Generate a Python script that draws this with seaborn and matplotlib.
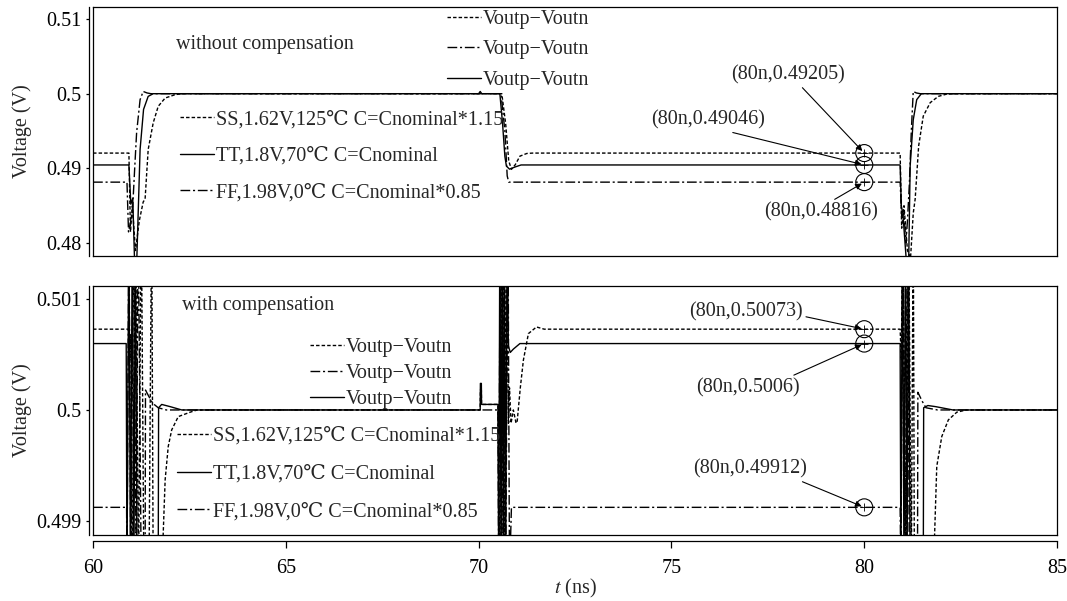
import matplotlib
matplotlib.use("Agg")
import matplotlib.pyplot as plt
import numpy as np
import pandas as pd
import seaborn as sns
from matplotlib.lines import Line2D

# ---------------- data ----------------
corners = ["SS", "TT", "FF"]
corner_labels = ["SS,1.62V,125\u2103 C=Cnominal*1.15",
                 "TT,1.8V,70\u2103 C=Cnominal",
                 "FF,1.98V,0\u2103 C=Cnominal*0.85"]
series_label = "Voutp\u2212Voutn"

# top panel: without compensation
top_ss_t = [60, 60.93, 60.97, 61.02, 61.10, 61.20, 61.30, 61.35, 61.43, 61.56, 61.69, 61.87, 62.13, 62.3,
            70.6, 70.7, 70.78, 70.85, 70.95, 71.07, 71.25, 71.4,
            80.93, 80.97, 81.03, 81.12, 81.2, 81.27, 81.32, 81.41, 81.53, 81.71, 81.92, 82.14, 82.3, 85]
top_ss_v = [0.49205, 0.49205, 0.4815, 0.4850, 0.4790, 0.4830, 0.4855, 0.4859, 0.49253, 0.49609, 0.49831, 0.49942, 0.49987, 0.5,
            0.5, 0.4960, 0.4910, 0.48987, 0.4905, 0.49164, 0.4920, 0.49205,
            0.49205, 0.4820, 0.4850, 0.4790, 0.4780, 0.4840, 0.4859, 0.4930, 0.4970, 0.4988, 0.49964, 0.49995, 0.5, 0.5]
top_tt_t = [60, 60.93, 60.98, 61.03, 61.08, 61.13, 61.22, 61.31, 61.43, 61.56,
            70.0, 70.04, 70.08, 70.55, 70.62, 70.68, 70.72, 70.8, 70.95, 71.1,
            80.93, 80.96, 81.0, 81.1, 81.15, 81.19, 81.27, 81.36, 81.48, 85]
top_tt_v = [0.49046, 0.49046, 0.4852, 0.4860, 0.4770, 0.4770, 0.49253, 0.4979, 0.49964, 0.5,
            0.5, 0.5003, 0.5, 0.5, 0.4960, 0.4916, 0.4903, 0.4899, 0.4902, 0.49046,
            0.49046, 0.4850, 0.4840, 0.4770, 0.4770, 0.4903, 0.4965, 0.4992, 0.5, 0.5]
top_ff_t = [60, 60.88, 60.92, 60.98, 61.03, 61.08, 61.13, 61.22, 61.30, 61.40, 61.5,
            70.58, 70.68, 70.74, 70.78,
            80.93, 80.97, 81.03, 81.08, 81.12, 81.17, 81.22, 81.27, 81.35, 81.45, 85]
top_ff_v = [0.48816, 0.48816, 0.4815, 0.4830, 0.4850, 0.4900, 0.4948, 0.4992, 0.5003, 0.5001, 0.5,
            0.5, 0.4950, 0.4890, 0.48816,
            0.48816, 0.4836, 0.4840, 0.4800, 0.4830, 0.4880, 0.4950, 0.5003, 0.5001, 0.5, 0.5]

# bottom panel: with compensation
bot_ss_t = [60, 60.92, 60.95, 60.98, 61.02, 61.10, 61.18, 61.25, 61.32, 61.45, 61.52, 61.56, 61.78, 61.87, 61.95,
            62.04, 62.21, 62.52, 62.7,
            70.04, 70.045, 70.07, 70.075, 70.5, 70.55, 70.6, 70.66, 70.72, 70.77, 70.8, 70.84, 70.9, 70.97,
            71.0, 71.08, 71.16, 71.29, 71.5, 71.7,
            80.93, 80.96, 81.0, 81.08, 81.15, 81.22, 81.27, 81.3, 81.79, 81.88, 82.01, 82.18, 82.4, 82.65, 85]
bot_ss_v = [0.50073, 0.50073, 0.50045, 0.50068, 0.4985, 0.5018, 0.4985, 0.5018, 0.4985, 0.4985, 0.5018, 0.4985, 0.4985, 0.49937, 0.49967,
            0.49982, 0.49994, 0.49998, 0.5,
            0.5, 0.50018, 0.50018, 0.50005, 0.50005, 0.4985, 0.5018, 0.4985, 0.5018, 0.49988, 0.5002, 0.49988, 0.5, 0.49988,
            0.4999, 0.5002, 0.50045, 0.50069, 0.50075, 0.50073,
            0.50073, 0.50045, 0.5018, 0.4985, 0.5018, 0.4985, 0.5018, 0.4985, 0.4985, 0.49949, 0.49976, 0.49991, 0.49998, 0.5, 0.5]
bot_tt_t = [60, 60.86, 60.88, 60.93, 60.97, 61.02, 61.06, 61.10, 61.14, 61.69, 61.70, 61.78, 62.0, 62.3,
            70.04, 70.045, 70.07, 70.075, 70.5, 70.52, 70.55, 70.58, 70.61, 70.64, 70.67, 70.7, 70.74, 70.77,
            70.82, 70.9, 71.07,
            80.93, 80.95, 80.99, 81.03, 81.07, 81.11, 81.15, 81.19, 81.53, 81.54, 81.65, 81.85, 82.3, 85]
bot_tt_v = [0.5006, 0.5006, 0.4985, 0.5018, 0.4985, 0.5018, 0.4985, 0.5018, 0.4985, 0.4985, 0.50002, 0.50005, 0.50003, 0.5,
            0.5, 0.50024, 0.50024, 0.50005, 0.50005, 0.4985, 0.5018, 0.4985, 0.5018, 0.4985, 0.5018, 0.4985, 0.5018, 0.50058,
            0.50052, 0.50055, 0.5006,
            0.5006, 0.4985, 0.5018, 0.4985, 0.5018, 0.4985, 0.5018, 0.4985, 0.4985, 0.50002, 0.50004, 0.50003, 0.5, 0.5]
bot_ff_t = [60, 60.87, 60.88, 60.93, 60.98, 61.05, 61.12, 61.17, 61.25, 61.35, 61.36, 61.45, 61.55, 61.69, 61.9,
            70.5, 70.52, 70.56, 70.6, 70.65, 70.7, 70.76, 70.8, 70.85,
            80.93, 80.95, 81.0, 81.06, 81.12, 81.17, 81.38, 81.39, 81.5, 81.6, 81.9, 85]
bot_ff_v = [0.49912, 0.49912, 0.4985, 0.5018, 0.4985, 0.5018, 0.4985, 0.5018, 0.4985, 0.4985, 0.50018, 0.50012, 0.50006, 0.50002, 0.5,
            0.5, 0.4985, 0.5018, 0.4985, 0.5018, 0.4985, 0.5018, 0.4985, 0.49912,
            0.49912, 0.4985, 0.5018, 0.4985, 0.5018, 0.4985, 0.4985, 0.50016, 0.50008, 0.50002, 0.5, 0.5]

top_marker_vals = [0.49205, 0.49046, 0.48816]
top_marker_text = ["(80n,0.49205)", "(80n,0.49046)", "(80n,0.48816)"]
bot_marker_vals = [0.50073, 0.5006, 0.49912]
bot_marker_text = ["(80n,0.50073)", "(80n,0.5006)", "(80n,0.49912)"]
marker_time = 80

top_yticks = [0.48, 0.49, 0.5, 0.51]
top_yticklabels = ["0.48", "0.49", "0.5", "0.51"]
bot_yticks = [0.499, 0.5, 0.501]
bot_yticklabels = ["0.499", "0.5", "0.501"]
xticks = [60, 65, 70, 75, 80, 85]

# ---------------- style ----------------
sns.set_theme(style="white")
plt.rcParams["font.family"] = ["Liberation Serif", "DejaVu Serif"]
plt.rcParams["mathtext.fontset"] = "stix"
plt.rcParams["axes.edgecolor"] = "black"
plt.rcParams["xtick.color"] = "black"
plt.rcParams["ytick.color"] = "black"
FS = 14.5

dash_map = {"SS": (2.5, 1.5), "TT": "", "FF": (7, 2, 1.5, 2)}
mpl_ls = {"SS": (0, (2.5, 1.5)), "TT": "-", "FF": (0, (7, 2, 1.5, 2))}


def frame(t_lists, v_lists):
    parts = []
    for c, t, v in zip(corners, t_lists, v_lists):
        parts.append(pd.DataFrame({"t": t, "v": v, "corner": c}))
    return pd.concat(parts, ignore_index=True)


df_top = frame([top_ss_t, top_tt_t, top_ff_t], [top_ss_v, top_tt_v, top_ff_v])
df_bot = frame([bot_ss_t, bot_tt_t, bot_ff_t], [bot_ss_v, bot_tt_v, bot_ff_v])

fig = plt.figure(figsize=(10.67, 6.01), dpi=100)
ax1 = fig.add_axes([0.0872, 0.574, 0.9035, 0.4143])
ax2 = fig.add_axes([0.0872, 0.1098, 0.9035, 0.4143])

for ax, df in [(ax1, df_top), (ax2, df_bot)]:
    sns.lineplot(data=df, x="t", y="v", style="corner", dashes=dash_map, color="black",
                 estimator=None, sort=False, legend=False, linewidth=1.0, ax=ax)

ax1.set_ylim(0.47827, 0.5116)
ax2.set_ylim(0.49887, 0.50112)

for ax, yt, yl in [(ax1, top_yticks, top_yticklabels), (ax2, bot_yticks, bot_yticklabels)]:
    ax.set_xlim(60, 85)
    ax.set_xticks([])
    ax.set_yticks([])
    ax.set_xlabel("")
    ax.set_ylabel("Voltage (V)", fontsize=FS)
    ax.yaxis.set_label_coords(-0.0633, 0.5)
    for s in ax.spines.values():
        s.set_visible(True)
        s.set_color("black")
        s.set_linewidth(0.9)
    sy = ax.secondary_yaxis(-0.0045)
    sy.set_yticks(yt, yl)
    sy.tick_params(direction="out", length=2.5, width=0.9, pad=3, labelsize=FS, colors="black")
    sy.spines["left"].set_color("black")
    sy.spines["left"].set_linewidth(0.9)

sx = ax2.secondary_xaxis(-0.024)
sx.set_xticks(xticks, [str(x) for x in xticks])
sx.tick_params(direction="out", length=5, width=0.9, pad=8, labelsize=FS, colors="black")
sx.spines["bottom"].set_color("black")
sx.spines["bottom"].set_linewidth(0.9)
ax2.set_xlabel("$t$ (ns)", fontsize=FS)
ax2.xaxis.set_label_coords(0.5, -0.168)

# panel titles
ax1.text(0.086, 0.851, "without compensation", transform=ax1.transAxes, fontsize=FS, va="center", ha="left")
ax2.text(0.092, 0.92, "with compensation", transform=ax2.transAxes, fontsize=FS, va="center", ha="left")

# legends
def handles(order):
    return [Line2D([], [], color="black", lw=1.0, linestyle=mpl_ls[c]) for c in order]

leg_kw = dict(frameon=False, fontsize=FS, borderpad=0, borderaxespad=0, handletextpad=0.1,
              handlelength=1.7, loc="upper left")

for ax, anchor1, sp1, anchor2, sp2 in [
        (ax1, (0.367, 0.988), 0.56, (0.090, 0.586), 0.87),
        (ax2, (0.225, 0.791), 0.33, (0.087, 0.434), 0.92)]:
    l1 = ax.legend(handles(["SS", "FF", "TT"]), [series_label] * 3, bbox_to_anchor=anchor1,
                   labelspacing=sp1, **leg_kw)
    ax.add_artist(l1)
    l2 = ax.legend(handles(["SS", "TT", "FF"]), corner_labels, bbox_to_anchor=anchor2,
                   labelspacing=sp2, **leg_kw)

# annotated markers
ann_top = [((78.02, 0.50253), (0.6, 0.0)), ((75.95, 0.49653), (0.6, 0.0)), ((78.88, 0.48413), (0.57, 1.0))]
ann_bot = [((76.93, 0.500883), (1.0, 0.3)), ((76.99, 0.500198), (0.87, 1.0)), ((77.04, 0.499468), (0.89, 0.0))]

for ax, vals, texts, pos in [(ax1, top_marker_vals, top_marker_text, ann_top),
                             (ax2, bot_marker_vals, bot_marker_text, ann_bot)]:
    xs = [marker_time] * len(vals)
    ax.scatter(xs, vals, s=150, facecolors="none", edgecolors="black", linewidths=0.8, zorder=5)
    ax.scatter(xs, vals, s=40, marker="+", color="black", linewidths=0.6, zorder=5)
    for v, txt, (xyt, rp) in zip(vals, texts, pos):
        ax.annotate(txt, xy=(marker_time, v), xytext=xyt, textcoords="data", fontsize=FS,
                    ha="center", va="center",
                    arrowprops=dict(arrowstyle="-|>", color="black", lw=0.8, mutation_scale=9,
                                    shrinkA=0, shrinkB=2, relpos=rp))

fig.savefig("out.png", dpi=100)
